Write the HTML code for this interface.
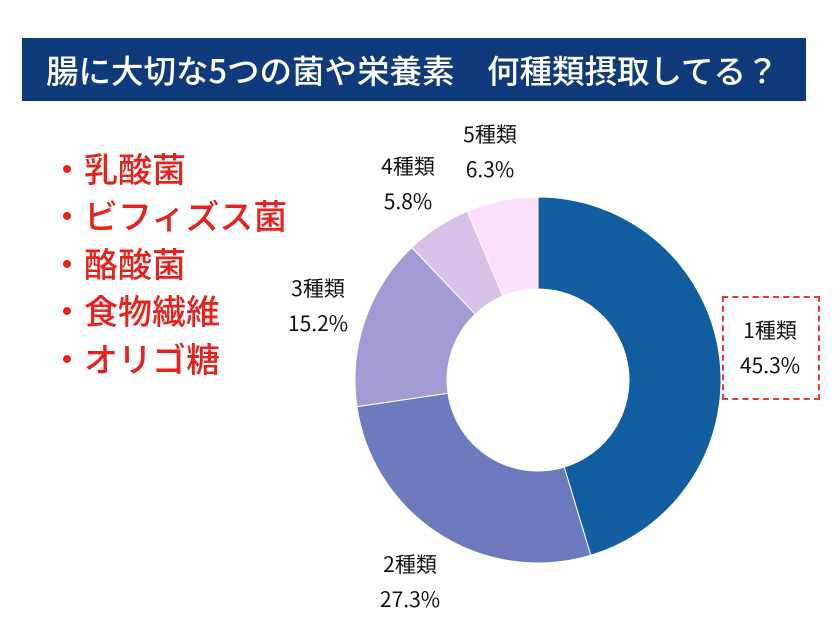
<!DOCTYPE html>
<html><head><meta charset="utf-8">
<style>
body{margin:0;width:840px;height:630px;background:#fff;overflow:hidden;position:relative;font-family:"Liberation Sans","Noto Sans CJK JP",sans-serif}
#title{position:absolute;left:22px;top:38px;width:784px;height:63px;background:#0f3b7d;color:#fff;font-family:"Noto Sans CJK JP",sans-serif;font-size:32.5px;line-height:63px;white-space:pre;padding-left:24px;box-sizing:border-box;font-weight:500}
.item{position:absolute;left:50px;color:#e8211d;font-family:"Noto Sans CJK JP",sans-serif;font-size:34px;line-height:40px;font-weight:500;white-space:pre}
.lbl{position:absolute;font-family:"Noto Sans CJK JP",sans-serif;font-size:21px;color:#111;text-align:center;line-height:35px;width:100px}
#box{position:absolute;left:722px;top:296px;width:98px;height:104px;border:2px dashed #e53b30;box-sizing:border-box}
</style></head><body>
<div id="title">腸に大切な5つの菌や栄養素　何種類摂取してる？</div>
<div class="item" style="top:148px">・乳酸菌</div>
<div class="item" style="top:195px">・ビフィズス菌</div>
<div class="item" style="top:243px">・酪酸菌</div>
<div class="item" style="top:290px">・食物繊維</div>
<div class="item" style="top:338px">・オリゴ糖</div>
<svg id="chart" width="840" height="630" style="position:absolute;left:0;top:0"></svg>
<div id="box"></div>
<div id="labels"></div>
<script>
const categories=["1種類","2種類","3種類","4種類","5種類"];
const values=[45.3,27.3,15.2,5.8,6.3];
const colors=["#135ea0","#6b7bbd","#a39bd3","#d8c1e6","#fde0fb"];
const labelPos=[[770,348],[410,582],[318,306],[408,184],[490,152]];
const cx=538,cy=380,R=183,r=91;
const svg=document.getElementById('chart');
const total=values.reduce((a,b)=>a+b,0);
let a0=0;
function pt(rad,a){return [cx+rad*Math.sin(a),cy-rad*Math.cos(a)];}
values.forEach((v,i)=>{
  const a1=a0+v/total*2*Math.PI;
  const large=(a1-a0)>Math.PI?1:0;
  const p1=pt(R,a0),p2=pt(R,a1),p3=pt(r,a1),p4=pt(r,a0);
  const p=document.createElementNS('http://www.w3.org/2000/svg','path');
  p.setAttribute('d',`M${p1[0]},${p1[1]}A${R},${R} 0 ${large} 1 ${p2[0]},${p2[1]}L${p3[0]},${p3[1]}A${r},${r} 0 ${large} 0 ${p4[0]},${p4[1]}Z`);
  p.setAttribute('fill',colors[i]);
  p.setAttribute('stroke','#fff');p.setAttribute('stroke-width','1');
  
  
  svg.appendChild(p);
  a0=a1;
  const d=document.createElement('div');
  d.className='lbl';
  d.style.left=(labelPos[i][0]-50)+'px';d.style.top=(labelPos[i][1]-35)+'px';
  d.innerHTML=categories[i]+'<br>'+values[i].toFixed(1)+'%';
  
  
  document.getElementById('labels').appendChild(d);
});
</script>
</body></html>
